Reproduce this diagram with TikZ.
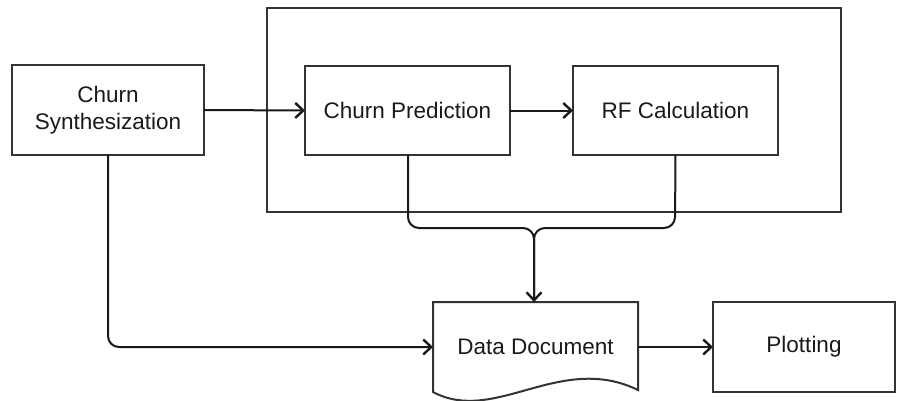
\documentclass[tikz,border=0pt]{standalone}
\usepackage{fontspec}
\setmainfont{Liberation Sans}
\usetikzlibrary{arrows.meta}
\definecolor{boxline}{HTML}{333333}
\definecolor{txt}{HTML}{1A1A1A}
\begin{document}
\begin{tikzpicture}[x=1pt,y=-1pt,
  box/.style={draw=boxline,line width=2pt,rectangle,inner sep=0pt,outer sep=0pt,
    anchor=north west,align=center,text=txt,font=\fontsize{22.5}{27}\selectfont},
  conn/.style={draw=black!90,line width=2pt,rounded corners=11pt,
    -{Straight Barb[length=8pt,width=15pt,line width=2.4pt]}},
  plain/.style={draw=black!90,line width=2pt,rounded corners=11pt}]
\useasboundingbox (0,0) rectangle (906,400);
\node[box,minimum width=574pt,minimum height=204pt] (cont) at (267,8) {};
\node[box,minimum width=192pt,minimum height=90pt] (synth) at (12,65) {Churn\\Synthesization};
\node[box,minimum width=205pt,minimum height=89pt] (pred) at (305,66) {Churn Prediction};
\node[box,minimum width=205pt,minimum height=89pt] (rf) at (573,66) {RF Calculation};
\node[box,minimum width=182pt,minimum height=90pt] (plot) at (713,302) {Plotting};
\node[box,draw=none,minimum width=205pt,minimum height=90pt] (doc) at (433,302) {Data Document};
\draw[draw=boxline,line width=2pt,line join=miter]
  (doc.south west) -- (doc.north west) -- (doc.north east) -- (638,390)
  .. controls (560,352) and (495,425) .. (433,392) -- cycle;
\coordinate (j) at (534,228);
\coordinate (pl) at (408,228);
\coordinate (rl) at (675,228);
\draw[conn] (synth.east) -- (pred.west);
\draw[conn] (pred.east) -- (rf.west);
\draw[plain] (pred.south -| pl) -- (pl) -- (j) -- (j |- doc.north);
\draw[conn] (rf.south) -- (rl) -- (j) -- (j |- doc.north);
\draw[conn] (synth.south) -- (synth.south |- doc.west) -- (doc.west);
\draw[conn] (doc.east) -- (plot.west);
\end{tikzpicture}
\end{document}
